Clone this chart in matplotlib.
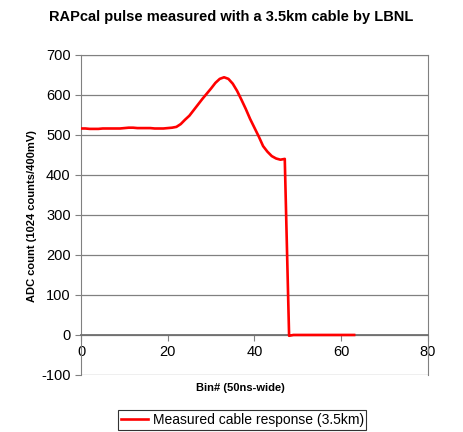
import numpy as np
import matplotlib.pyplot as plt

plt.rcParams['font.family'] = ['Liberation Sans', 'DejaVu Sans']
plt.rcParams['axes.unicode_minus'] = False

# bin number 0..63 and ADC counts
bins = list(range(64))
adc = [516, 516, 515, 515, 515, 516, 516, 516, 516, 516,
       517, 518, 518, 517, 517, 517, 517, 516, 516, 516,
       517, 518, 520, 527, 538, 548, 562, 576, 590, 603,
       616, 630, 640, 644, 640, 628, 610, 588, 565, 540,
       518, 496, 472, 458, 447, 441, 438, 440, -2, 0,
       0, 0, 0, 0, 0, 0, 0, 0, 0, 0,
       0, 0, 0, 0]

fig = plt.figure(figsize=(4.63, 4.32), dpi=100)
ax = fig.add_axes([0.175, 0.132, 0.749, 0.741])

ax.plot(bins, adc, color='red', lw=1.9, label='Measured cable response (3.5km)',
        zorder=5)

ax.set_xlim(0, 80)
ax.set_ylim(-100, 700)
ax.set_xticks([0, 20, 40, 60, 80])
ax.set_yticks(range(-100, 701, 100))
ax.yaxis.grid(True, color='#808080', lw=0.9)
ax.set_axisbelow(True)

for s in ['left', 'right', 'top']:
    ax.spines[s].set_color('#808080')
ax.spines['bottom'].set_position(('data', 0))
ax.spines['bottom'].set_color('#707070')
ax.spines['bottom'].set_linewidth(1.3)
ax.tick_params(axis='both', colors='#808080', labelcolor='black',
               labelsize=10.5, length=4, direction='out')

fig.text(0.5, 0.96, 'RAPcal pulse measured with a 3.5km cable by LBNL',
         ha='center', va='center', fontsize=10.5, fontweight='bold')
fig.text(0.52, 0.102, 'Bin# (50ns-wide)', ha='center', va='center',
         fontsize=8, fontweight='bold')
fig.text(0.07, 0.5, 'ADC count (1024 counts/400mV)', ha='center', va='center',
         rotation=90, fontsize=8, fontweight='bold')

leg = fig.legend(loc='center', bbox_to_anchor=(0.523, 0.028), fontsize=10,
                 frameon=True, fancybox=False, edgecolor='black',
                 handlelength=2.0, borderpad=0.2, handletextpad=0.3)
leg.get_frame().set_linewidth(0.8)

fig.savefig('out.png', dpi=100)
